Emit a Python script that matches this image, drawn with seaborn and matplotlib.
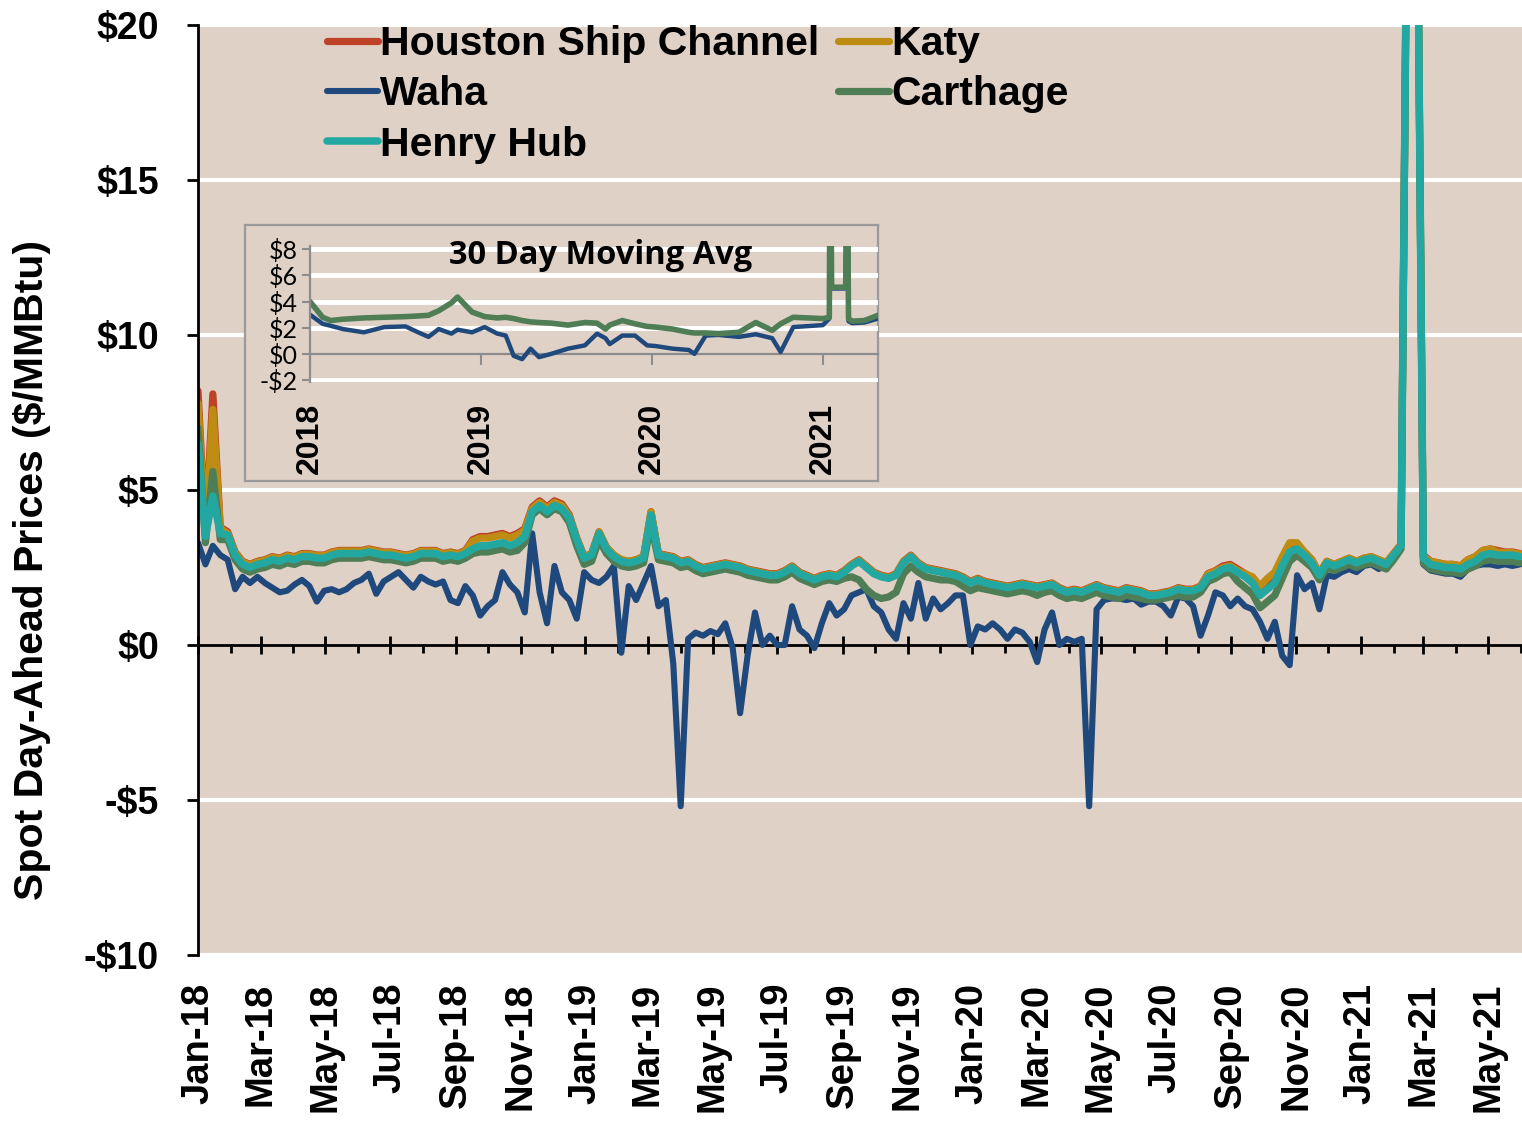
import pandas as pd
import matplotlib
matplotlib.use("Agg")
import matplotlib.pyplot as plt
import matplotlib.dates as mdates
import seaborn as sns

# weekly spot day-ahead prices ($/MMBtu), weeks from 2018-01-01
first_week = "2018-01-01"
n_weeks = 179

henry_hub = [
    6.5, 3.5, 4.8, 3.6, 3.55, 2.9, 2.6, 2.5, 2.6, 2.65,
    2.75, 2.7, 2.8, 2.75, 2.85, 2.85, 2.8, 2.8, 2.9, 2.95,
    2.95, 2.95, 2.95, 3.0, 2.95, 2.9, 2.9, 2.85, 2.8, 2.85,
    2.95, 2.95, 2.95, 2.85, 2.9, 2.85, 2.95, 3.1, 3.2, 3.2,
    3.25, 3.3, 3.2, 3.3, 3.5, 4.3, 4.5, 4.3, 4.5, 4.4,
    4.1, 3.4, 2.8, 2.9, 3.6, 3.1, 2.85, 2.7, 2.65, 2.7,
    2.8, 4.2, 2.9, 2.85, 2.8, 2.65, 2.7, 2.55, 2.45, 2.5,
    2.55, 2.6, 2.55, 2.5, 2.4, 2.35, 2.3, 2.25, 2.25, 2.35,
    2.5, 2.3, 2.2, 2.1, 2.2, 2.25, 2.2, 2.35, 2.55, 2.7,
    2.5, 2.3, 2.2, 2.15, 2.25, 2.65, 2.85, 2.6, 2.45, 2.4,
    2.35, 2.3, 2.25, 2.15, 2.0, 2.1, 2.0, 1.95, 1.9, 1.85,
    1.9, 1.95, 1.9, 1.85, 1.9, 1.95, 1.8, 1.7, 1.75, 1.7,
    1.8, 1.9, 1.8, 1.75, 1.7, 1.8, 1.75, 1.7, 1.6, 1.6,
    1.65, 1.7, 1.8, 1.75, 1.75, 1.85, 2.2, 2.3, 2.45, 2.5,
    2.35, 2.2, 2.0, 1.6, 1.8, 2.0, 2.55, 3.0, 3.1, 2.9,
    2.65, 2.25, 2.65, 2.55, 2.65, 2.75, 2.65, 2.75, 2.8, 2.7,
    2.6, 2.9, 3.2, 30.0, 30.0, 2.8, 2.6, 2.55, 2.5, 2.5,
    2.45, 2.6, 2.7, 2.9, 2.95, 2.9, 2.9, 2.9, 2.85,
]

waha = [
    3.3, 2.6, 3.2, 2.9, 2.75, 1.8, 2.2, 2.0, 2.2, 2.0,
    1.85, 1.7, 1.75, 1.95, 2.1, 1.9, 1.4, 1.75, 1.8, 1.7,
    1.8, 2.0, 2.1, 2.3, 1.65, 2.05, 2.2, 2.35, 2.1, 1.85,
    2.2, 2.05, 1.95, 2.05, 1.45, 1.35, 1.9, 1.6, 0.95, 1.25,
    1.45, 2.35, 1.95, 1.7, 1.05, 3.6, 1.7, 0.7, 2.55, 1.7,
    1.45, 0.85, 2.35, 2.1, 2.0, 2.2, 2.55, -0.25, 1.9, 1.45,
    2.0, 2.55, 1.25, 1.45, -0.6, -5.2, 0.2, 0.4, 0.3, 0.45,
    0.35, 0.7, -0.1, -2.2, -0.35, 1.05, 0.0, 0.3, 0.0, 0.0,
    1.25, 0.5, 0.3, -0.1, 0.7, 1.35, 0.95, 1.15, 1.6, 1.7,
    1.8, 1.25, 1.05, 0.5, 0.2, 1.35, 0.85, 2.0, 0.85, 1.5,
    1.15, 1.35, 1.6, 1.6, 0.0, 0.6, 0.5, 0.7, 0.5, 0.2,
    0.5, 0.4, 0.1, -0.55, 0.5, 1.05, 0.0, 0.2, 0.1, 0.2,
    -5.2, 1.15, 1.45, 1.5, 1.5, 1.45, 1.5, 1.3, 1.4, 1.4,
    1.25, 0.95, 1.55, 1.5, 1.25, 0.3, 0.95, 1.7, 1.6, 1.25,
    1.5, 1.25, 1.15, 0.75, 0.2, 0.75, -0.35, -0.65, 2.25, 1.8,
    2.0, 1.15, 2.25, 2.2, 2.35, 2.45, 2.35, 2.55, 2.6, 2.45,
    2.6, 2.8, 3.2, 30.0, 30.0, 2.6, 2.4, 2.35, 2.3, 2.3,
    2.2, 2.45, 2.55, 2.6, 2.6, 2.55, 2.6, 2.55, 2.6,
]

houston_ship_channel = [
    8.2, 3.6, 8.1, 3.8, 3.65, 3.0, 2.7, 2.6, 2.7, 2.75,
    2.85, 2.8, 2.9, 2.85, 2.95, 2.95, 2.9, 2.9, 3.0, 3.05,
    3.05, 3.05, 3.05, 3.1, 3.05, 3.0, 3.0, 2.95, 2.9, 2.95,
    3.05, 3.05, 3.05, 2.95, 3.0, 2.95, 3.05, 3.4, 3.5, 3.5,
    3.55, 3.6, 3.5, 3.6, 3.75, 4.45, 4.65, 4.45, 4.65, 4.55,
    4.2, 3.45, 2.85, 2.95, 3.65, 3.15, 2.9, 2.75, 2.7, 2.75,
    2.85, 4.3, 2.95, 2.9, 2.85, 2.7, 2.75, 2.6, 2.5, 2.55,
    2.6, 2.65, 2.6, 2.55, 2.45, 2.4, 2.35, 2.3, 2.3, 2.4,
    2.55, 2.35, 2.25, 2.15, 2.25, 2.3, 2.25, 2.4, 2.6, 2.75,
    2.55, 2.35, 2.25, 2.2, 2.3, 2.7, 2.9, 2.65, 2.5, 2.45,
    2.4, 2.35, 2.3, 2.2, 2.05, 2.15, 2.05, 2.0, 1.95, 1.9,
    1.95, 2.0, 1.95, 1.9, 1.95, 2.0, 1.85, 1.75, 1.8, 1.75,
    1.85, 1.95, 1.85, 1.8, 1.75, 1.85, 1.8, 1.75, 1.65, 1.65,
    1.7, 1.75, 1.85, 1.8, 1.8, 1.9, 2.3, 2.4, 2.55, 2.6,
    2.45, 2.3, 2.1, 1.7, 1.9, 2.1, 2.65, 3.1, 3.2, 3.0,
    2.75, 2.3, 2.7, 2.6, 2.7, 2.8, 2.7, 2.8, 2.85, 2.75,
    2.65, 2.95, 3.25, 30.0, 30.0, 2.9, 2.7, 2.65, 2.6, 2.6,
    2.55, 2.75, 2.85, 3.05, 3.1, 3.05, 3.0, 3.0, 2.95,
]

katy = [
    7.8, 3.55, 7.6, 3.75, 3.6, 2.98, 2.68, 2.58, 2.68, 2.73,
    2.83, 2.78, 2.88, 2.83, 2.93, 2.93, 2.88, 2.88, 2.98, 3.03,
    3.03, 3.03, 3.03, 3.08, 3.03, 2.98, 2.98, 2.93, 2.88, 2.93,
    3.03, 3.03, 3.03, 2.93, 2.98, 2.93, 3.03, 3.35, 3.45, 3.45,
    3.5, 3.55, 3.45, 3.55, 3.7, 4.4, 4.6, 4.4, 4.6, 4.5,
    4.15, 3.45, 2.85, 2.95, 3.65, 3.15, 2.9, 2.75, 2.7, 2.75,
    2.85, 4.3, 2.93, 2.88, 2.83, 2.68, 2.73, 2.58, 2.48, 2.53,
    2.58, 2.63, 2.58, 2.53, 2.43, 2.38, 2.33, 2.28, 2.28, 2.38,
    2.53, 2.33, 2.23, 2.13, 2.23, 2.28, 2.23, 2.38, 2.58, 2.73,
    2.53, 2.33, 2.23, 2.18, 2.28, 2.68, 2.88, 2.63, 2.48, 2.43,
    2.38, 2.33, 2.28, 2.18, 2.03, 2.13, 2.03, 1.98, 1.93, 1.88,
    1.93, 1.98, 1.93, 1.88, 1.93, 1.98, 1.83, 1.73, 1.78, 1.73,
    1.83, 1.93, 1.83, 1.78, 1.73, 1.83, 1.78, 1.73, 1.63, 1.63,
    1.68, 1.73, 1.83, 1.78, 1.78, 1.88, 2.28, 2.38, 2.5, 2.55,
    2.4, 2.3, 2.2, 1.9, 2.15, 2.35, 2.85, 3.3, 3.3, 3.0,
    2.75, 2.3, 2.7, 2.6, 2.7, 2.8, 2.7, 2.8, 2.85, 2.75,
    2.65, 2.95, 3.25, 30.0, 30.0, 2.85, 2.7, 2.65, 2.6, 2.6,
    2.55, 2.75, 2.85, 3.05, 3.1, 3.0, 2.98, 2.98, 2.93,
]

carthage = [
    7.0, 3.3, 5.6, 3.4, 3.4, 2.75, 2.45, 2.35, 2.45, 2.5,
    2.6, 2.55, 2.65, 2.6, 2.7, 2.7, 2.65, 2.65, 2.75, 2.8,
    2.8, 2.8, 2.8, 2.85, 2.8, 2.75, 2.75, 2.7, 2.65, 2.7,
    2.8, 2.8, 2.8, 2.7, 2.75, 2.7, 2.8, 2.95, 3.0, 3.0,
    3.05, 3.1, 3.0, 3.05, 3.3, 4.2, 4.4, 4.2, 4.4, 4.3,
    3.95, 3.2, 2.6, 2.7, 3.4, 2.95, 2.7, 2.55, 2.5, 2.55,
    2.65, 3.9, 2.75, 2.7, 2.65, 2.5, 2.55, 2.4, 2.3, 2.35,
    2.4, 2.45, 2.4, 2.35, 2.25, 2.2, 2.15, 2.1, 2.1, 2.2,
    2.35, 2.15, 2.05, 1.95, 2.05, 2.1, 2.05, 2.15, 2.2, 2.1,
    1.8, 1.6, 1.5, 1.55, 1.7, 2.3, 2.55, 2.35, 2.2, 2.15,
    2.1, 2.1, 2.05, 1.9, 1.75, 1.85, 1.8, 1.75, 1.7, 1.65,
    1.7, 1.75, 1.7, 1.6, 1.7, 1.75, 1.6, 1.5, 1.55, 1.5,
    1.6, 1.7, 1.6, 1.55, 1.5, 1.6, 1.55, 1.5, 1.45, 1.45,
    1.5, 1.55, 1.6, 1.55, 1.55, 1.7, 2.05, 2.15, 2.3, 2.35,
    2.05, 1.85, 1.65, 1.2, 1.4, 1.6, 2.15, 2.7, 2.9, 2.7,
    2.5, 2.1, 2.5, 2.4, 2.5, 2.6, 2.5, 2.6, 2.65, 2.55,
    2.45, 2.75, 3.1, 30.0, 30.0, 2.65, 2.45, 2.4, 2.35, 2.35,
    2.3, 2.45, 2.55, 2.7, 2.75, 2.7, 2.7, 2.7, 2.65,
]

# inset: 30 day moving averages
ma_dates = [
    "2018-01-01", "2018-01-28", "2018-02-14", "2018-03-12", "2018-04-26",
    "2018-06-09", "2018-07-24", "2018-08-20", "2018-09-11", "2018-10-03",
    "2018-10-30", "2018-11-12", "2018-12-13", "2019-01-09", "2019-02-05",
    "2019-02-23", "2019-03-12", "2019-03-30", "2019-04-17", "2019-05-05",
    "2019-05-31", "2019-07-06", "2019-08-11", "2019-09-06", "2019-09-24",
    "2019-10-03", "2019-10-30", "2019-11-26", "2019-12-22", "2020-01-09",
    "2020-02-14", "2020-03-20", "2020-04-01", "2020-04-25", "2020-05-22",
    "2020-07-05", "2020-08-10", "2020-09-14", "2020-10-02", "2020-10-29",
    "2020-12-31", "2021-01-14", "2021-01-16", "2021-01-19", "2021-02-18",
    "2021-02-21", "2021-02-24", "2021-03-04", "2021-03-30", "2021-04-28",
]
ma_carthage = [
    4.0, 2.8, 2.55, 2.65, 2.75, 2.8, 2.85, 2.9, 2.95, 3.3,
    3.9, 4.35, 3.2, 2.85, 2.75, 2.8, 2.7, 2.55, 2.45, 2.4,
    2.35, 2.2, 2.4, 2.35, 1.9, 2.2, 2.55, 2.3, 2.1, 2.05,
    1.9, 1.65, 1.6, 1.6, 1.55, 1.65, 2.4, 1.8, 2.3, 2.8,
    2.7, 2.8, 20.0, 5.1, 5.1, 20.0, 2.7, 2.5, 2.55, 2.95,
]
ma_waha = [
    3.0, 2.3, 2.15, 1.9, 1.65, 2.05, 2.1, 1.65, 1.3, 1.9,
    1.55, 1.85, 1.65, 2.05, 1.55, 1.4, -0.15, -0.4, 0.4, -0.25,
    0.0, 0.4, 0.65, 1.55, 1.2, 0.75, 1.4, 1.4, 0.65, 0.6,
    0.4, 0.3, 0.0, 1.4, 1.45, 1.3, 1.5, 1.2, 0.15, 2.05,
    2.2, 2.7, 20.0, 5.0, 5.0, 20.0, 2.5, 2.35, 2.4, 2.7,
]

month_labels = [
    "Jan-18", "Mar-18", "May-18", "Jul-18", "Sep-18", "Nov-18",
    "Jan-19", "Mar-19", "May-19", "Jul-19", "Sep-19", "Nov-19",
    "Jan-20", "Mar-20", "May-20", "Jul-20", "Sep-20", "Nov-20",
    "Jan-21", "Mar-21", "May-21",
]
price_ticks = [-10, -5, 0, 5, 10, 15, 20]
price_labels = ["-$10", "-$5", "$0", "$5", "$10", "$15", "$20"]
inset_ticks = [-2, 0, 2, 4, 6, 8]
inset_labels = ["-$2", "$0", "$2", "$4", "$6", "$8"]
year_labels = ["2018", "2019", "2020", "2021"]

BG = "#E0D1C6"
colors = {
    "Houston Ship Channel": "#BE4128",
    "Katy": "#BE8C12",
    "Waha": "#1F497D",
    "Carthage": "#4F7D55",
    "Henry Hub": "#22A8A0",
}

sns.set_theme(style="white")
plt.rcParams["font.family"] = ["Liberation Sans", "DejaVu Sans"]
plt.rcParams["text.color"] = "black"
plt.rcParams["axes.labelcolor"] = "black"
plt.rcParams["xtick.color"] = "black"
plt.rcParams["ytick.color"] = "black"

W, H = 1522, 1122
fig = plt.figure(figsize=(W / 100, H / 100), dpi=100)
fig.patch.set_facecolor("white")

ax = fig.add_axes([198 / W, (H - 955) / H, 1324 / W, 930 / H])
ax.set_facecolor(BG)

weeks = pd.date_range(first_week, periods=n_weeks, freq="7D")
df = pd.DataFrame({
    "date": weeks,
    "Houston Ship Channel": houston_ship_channel,
    "Katy": katy,
    "Waha": waha,
    "Carthage": carthage,
    "Henry Hub": henry_hub,
})

handles = {}
for name, lw in [("Houston Ship Channel", 5.2), ("Katy", 5.2), ("Waha", 4.4),
                 ("Carthage", 5.2), ("Henry Hub", 5.4)]:
    sns.lineplot(data=df, x="date", y=name, ax=ax, color=colors[name],
                 linewidth=lw, legend=False)
    handles[name] = ax.lines[-1]

ax.set_xlim(pd.Timestamp("2018-01-01"), pd.Timestamp("2021-06-02"))
ax.set_ylim(-10, 20)
ax.set_xlabel("")
ax.set_ylabel("Spot Day-Ahead Prices ($/MMBtu)", fontsize=29.5, fontweight="bold")
ax.yaxis.set_label_coords(-0.111, 0.414)

ax.set_yticks(price_ticks, price_labels, fontsize=27, fontweight="bold")
ax.tick_params(axis="y", left=True, direction="out", length=8, width=2,
               color="black", labelcolor="black", pad=20)
ax.yaxis.grid(True, color="white", linewidth=3)
ax.get_ygridlines()[2].set_visible(False)
ax.xaxis.grid(False)
ax.set_axisbelow(True)

label_months = pd.date_range("2018-01-01", periods=len(month_labels), freq="2MS")
all_months = pd.date_range("2018-01-01", "2021-06-01", freq="MS")
ax.set_xticks(mdates.date2num(label_months), month_labels, rotation=90,
              fontsize=27.5, fontweight="bold")
ax.tick_params(axis="x", length=0, pad=20, labelcolor="black")

for side in ["top", "right", "bottom"]:
    ax.spines[side].set_visible(False)
ax.spines["left"].set_color("black")
ax.spines["left"].set_linewidth(2)

# axis line at $0 with month ticks
zax = ax.secondary_xaxis(10 / 30)
zax.set_xticks(mdates.date2num(label_months))
zax.set_xticks(mdates.date2num(all_months), minor=True)
zax.tick_params(which="major", direction="inout", length=13, width=2,
                color="black", labelbottom=False)
zax.tick_params(which="minor", direction="out", length=6, width=2,
                color="black", labelbottom=False)
zax.spines["bottom"].set_color("black")
zax.spines["bottom"].set_linewidth(2)

# legend
order = ["Houston Ship Channel", "Waha", "Henry Hub", "Katy", "Carthage"]
leg = fig.legend([handles[n] for n in order], order, ncol=2, loc="upper left",
                 bbox_to_anchor=(327 / W, 1 - 25 / H), frameon=False,
                 prop={"size": 29.5, "weight": "bold"}, handlelength=1.25,
                 handletextpad=0.05, columnspacing=0.45, labelspacing=0.3,
                 borderpad=0, borderaxespad=0, labelcolor="black")

# inset box and axes
box = fig.add_axes([245 / W, (H - 481) / H, 633 / W, 256 / H], zorder=2)
box.set_facecolor(BG)
box.set_xticks([])
box.set_yticks([])
for s in box.spines.values():
    s.set_color("#9A9A9A")
    s.set_linewidth(1.6)

axin = fig.add_axes([310 / W, (H - 382) / H, 568 / W, 136 / H], zorder=3)
axin.patch.set_alpha(0)
ma = pd.DataFrame({"date": pd.to_datetime(ma_dates), "Waha": ma_waha,
                   "Carthage": ma_carthage})
sns.lineplot(data=ma, x="date", y="Waha", ax=axin, color=colors["Waha"],
             linewidth=3.2, legend=False)
sns.lineplot(data=ma, x="date", y="Carthage", ax=axin, color=colors["Carthage"],
             linewidth=4.0, legend=False)
axin.set_xlim(pd.Timestamp("2018-01-01"), pd.Timestamp("2021-04-28"))
axin.set_ylim(-2.15, 8.25)
axin.set_xlabel("")
axin.set_ylabel("")
axin.set_yticks(inset_ticks, inset_labels, fontsize=18, fontfamily="Lato")
axin.tick_params(axis="y", left=True, direction="out", length=6, width=1.5,
                 color="#8C8C8C", labelcolor="black", pad=3)
axin.yaxis.grid(True, color="white", linewidth=3.5)
axin.get_ygridlines()[1].set_visible(False)
axin.set_axisbelow(True)
years = pd.date_range("2018-01-01", periods=len(year_labels), freq="YS")
axin.set_xticks(mdates.date2num(years), year_labels, rotation=90, fontsize=23,
                fontweight="bold")
axin.tick_params(axis="x", length=0, pad=15, labelcolor="black")
for side in ["top", "right", "bottom"]:
    axin.spines[side].set_visible(False)
axin.spines["left"].set_color("#8C8C8C")
axin.spines["left"].set_linewidth(1.6)

zin = axin.secondary_xaxis(2.15 / 10.4)
zin.set_xticks(mdates.date2num(years))
zin.tick_params(direction="out", length=8, width=1.5, color="#8C8C8C",
                labelbottom=False)
zin.spines["bottom"].set_color("#8C8C8C")
zin.spines["bottom"].set_linewidth(1.6)

axin.text(0.512, 0.93, "30 Day Moving Avg", transform=axin.transAxes,
          ha="center", va="center", fontsize=23.5, fontweight="bold",
          fontfamily="Open Sans", color="black")

fig.savefig("out.png", dpi=100, facecolor="white")
